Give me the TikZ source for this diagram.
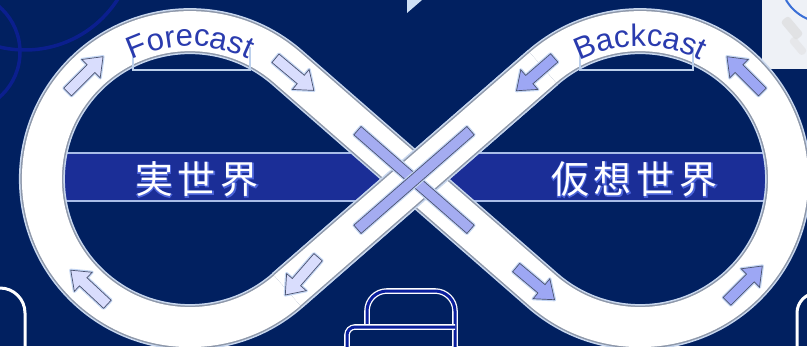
\documentclass[tikz,border=0pt]{standalone}
\usepackage{fontspec}
\newfontfamily\lsans{Liberation Sans}
\newfontfamily\cjk{Noto Sans CJK JP}
\newfontfamily\cjkglow[FakeBold=4]{Noto Sans CJK JP}
\usetikzlibrary{calc,decorations.text}
\definecolor{bg}{HTML}{012060}
\definecolor{decoline}{HTML}{0B1F8E}
\definecolor{snip}{HTML}{EEF1F6}
\definecolor{snipline}{HTML}{3A6FD6}
\definecolor{tri}{HTML}{CFE0F5}
\definecolor{barblue}{HTML}{1B2E97}
\definecolor{barlight}{HTML}{A9BDE8}
\definecolor{bandedge}{HTML}{C9D8EF}
\definecolor{bandgray}{HTML}{8E98AA}
\definecolor{boxline}{HTML}{BCD0EC}
\definecolor{fcblue}{HTML}{2A3BAE}
\definecolor{arrL}{HTML}{D9DDFD}
\definecolor{arrR}{HTML}{9DA7F4}
\definecolor{xbar}{HTML}{A4ACF1}
\definecolor{arrline}{HTML}{4A5270}
\definecolor{arrglow}{HTML}{C4D6F3}
\definecolor{glowc}{HTML}{4A62D8}
\definecolor{iconblue}{HTML}{0A1E9E}
\tikzset{
  bandouter/.style={draw=bandedge, line width=46pt},
  bandmid/.style={draw=bandgray, line width=43pt},
  bandinner/.style={draw=white, line width=40pt},
  arrhalo/.style={draw=arrglow, line width=3.2pt, line join=round},
  boxstroke/.style={draw=boxline, line width=2pt},
  iconstroke/.style={draw=white, double=iconblue, double distance=3pt, line width=1.3pt},
  cornerstroke/.style={draw=white, line width=3pt},
}
\newcommand{\flowarrow}[3]{%
  \begin{scope}[shift={(#1)},rotate=#2]
    \draw[arrhalo] (-25,-5.5) -- (8,-5.5) -- (8,-13) -- (25,0) -- (8,13) -- (8,5.5) -- (-25,5.5) -- cycle;
    \filldraw[fill=#3, draw=arrline, line width=0.7pt, line join=miter] (-25,-5.5) -- (8,-5.5) -- (8,-13) -- (25,0) -- (8,13) -- (8,5.5) -- (-25,5.5) -- cycle;
  \end{scope}}
\newcommand{\crossbar}[1]{%
  \begin{scope}[shift={(414,166)},rotate=#1]
    \draw[arrhalo] (-75,-5.5) rectangle (75,5.5);
    \filldraw[fill=xbar, draw=arrline, line width=0.7pt] (-75,-5.5) rectangle (75,5.5);
  \end{scope}}
\def\bandpath{(415,167) -- (542.8,278.4) arc[start angle=131.1,end angle=-131.1,radius=148] -- (287.2,278.4) arc[start angle=48.9,end angle=311.1,radius=148] -- cycle}
\begin{document}
\begin{tikzpicture}[x=1pt,y=1pt]
\useasboundingbox (0,0) rectangle (807,346);
\clip (0,0) rectangle (807,346);
\fill[bg] (0,0) rectangle (807,346);
\coordinate (Lc) at (190,167);
\coordinate (Rc) at (640,167);
% decorative circles top-left
\draw[decoline, line width=3.5pt] (-40,294) circle[radius=60];
\draw[decoline, line width=3.5pt] (25,406) circle[radius=110];
% top-right snippet
\fill[snip] (762,277) rectangle (810,350);
\draw[snipline, line width=2pt] (786,346) .. controls (792,336) and (800,330) .. (810,326);
\fill[gray!30, opacity=0.6, rotate around={-50:(792,318)}, rounded corners=3pt] (780,313) rectangle (804,323);
\fill[gray!25, opacity=0.5, rotate around={-50:(798,300)}, rounded corners=3pt] (788,296) rectangle (808,304);
% small triangle top
\fill[tri] (407,346) -- (422,346) -- (407,333) -- cycle;
% blue horizontal bar
\fill[barblue] (30,144) rectangle (800,194);
\draw[barlight, line width=2pt] (30,193) -- (800,193);
\draw[barlight, line width=2pt] (30,145) -- (800,145);
% infinity band
\draw[bandouter] \bandpath;
\draw[bandmid] \bandpath;
\draw[bandinner] \bandpath;
\draw[bandouter] (287.2,55.6) -- (542.8,278.4);
\draw[bandmid] (287.2,55.6) -- (542.8,278.4);
\draw[bandinner] (287.2,55.6) -- (542.8,278.4);
% label boxes
\draw[boxstroke] (133,299) -- (133,276) -- (250,276) -- (250,299);
\draw[boxstroke] (580,299) -- (580,276) -- (693,276) -- (693,299);
% curved labels
\path[decorate, decoration={text along path, text align=center,
  text={|\lsans\fontsize{31}{31}\selectfont\color{fcblue}|Forecast}}]
  ($(Lc)+(126:133)$) arc[start angle=126, end angle=54, radius=133];
\path[decorate, decoration={text along path, text align=center,
  text={|\lsans\fontsize{31}{31}\selectfont\color{fcblue}|Backcast}}]
  ($(Rc)+(126:133)$) arc[start angle=126, end angle=54, radius=133];
% flow arrows left loop
\flowarrow{$(Lc)+(135:148)$}{45}{arrL}
\flowarrow{$(Lc)+(45:148)$}{-40}{arrL}
\flowarrow{$(Lc)+(-41:148)$}{-131}{arrL}
\flowarrow{$(Lc)+(227:148)$}{137}{arrL}
% flow arrows right loop
\flowarrow{$(Rc)+(225:148)$}{-40}{arrR}
\flowarrow{$(Rc)+(-45:148)$}{45}{arrR}
\flowarrow{$(Rc)+(45:148)$}{135}{arrR}
\flowarrow{$(Rc)+(135:148)$}{-139}{arrR}
% crossing bars
\crossbar{-41.1}
\crossbar{41.1}
% world labels
\node[font=\cjkglow\fontsize{38}{38}\selectfont, text=glowc, anchor=base] (realglow) at (197,152) {実\hspace{5pt}世\hspace{5pt}界};
\node[font=\cjk\fontsize{38}{38}\selectfont, text=white, anchor=base] (real) at (197,152) {実\hspace{5pt}世\hspace{5pt}界};
\node[font=\cjkglow\fontsize{38}{38}\selectfont, text=glowc, anchor=base] (virtglow) at (634.5,152) {仮\hspace{5pt}想\hspace{5pt}世\hspace{5pt}界};
\node[font=\cjk\fontsize{38}{38}\selectfont, text=white, anchor=base] (virt) at (634.5,152) {仮\hspace{5pt}想\hspace{5pt}世\hspace{5pt}界};
% bottom icon
\draw[iconstroke, rounded corners=20pt] (367,19) -- (367,55) -- (455,55) -- (455,-8);
\draw[iconstroke, rounded corners=8pt] (455,19) -- (347,19) -- (347,-8);
% corner outlines
\draw[cornerstroke] (-10,58) -- (0,58) arc[start angle=90, end angle=0, radius=25] -- (25,-5);
\draw[cornerstroke] (797,-5) -- (797,33) arc[start angle=180, end angle=90, radius=20] -- (830,53);
\end{tikzpicture}
\end{document}
